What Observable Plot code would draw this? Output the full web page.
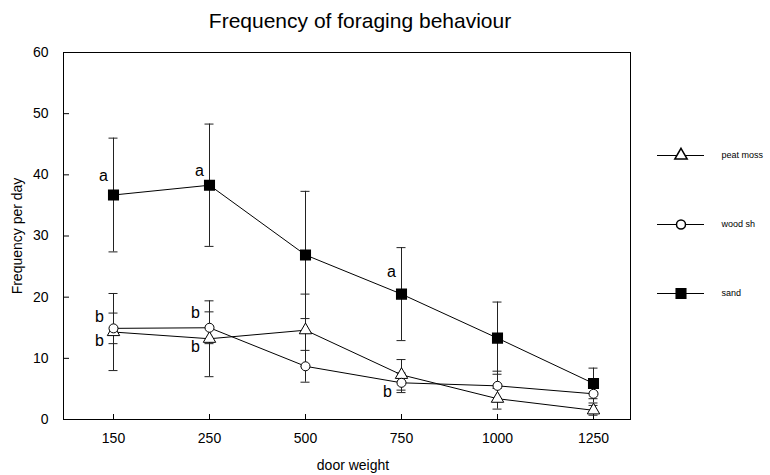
<!DOCTYPE html>
<html>
<head>
<meta charset="utf-8">
<script src="https://cdn.jsdelivr.net/npm/d3@7"></script>
<script src="https://cdn.jsdelivr.net/npm/@observablehq/plot@0.6"></script>
<style>
  html, body { margin: 0; padding: 0; background: #fff; }
  #wrap { position: relative; width: 770px; height: 475px; font-family: "Liberation Sans", Arial, sans-serif; }
  #wrap svg { position: absolute; background: transparent; }
</style>
</head>
<body>
<div id="wrap"></div>
<script>
// ---- data ----
const titleText = "Frequency of foraging behaviour";
const xLabel = "door weight";
const yLabel = "Frequency per day";
const doorWeights = ["150", "250", "500", "750", "1000", "1250"];
const yTicks = [0, 10, 20, 30, 40, 50, 60];
const seriesNames = ["peat moss", "wood sh", "sand"];

const peatMoss    = [14.3, 13.2, 14.6, 7.3, 3.4, 1.5];
const peatMossErr = [6.3, 6.2, 5.9, 2.5, 1.7, 0.8];
const woodSh      = [14.9, 15.0, 8.7, 6.0, 5.5, 4.2];
const woodShErr   = [2.5, 2.6, 2.6, 1.6, 2.4, 1.5];
const sand        = [36.7, 38.3, 26.9, 20.5, 13.3, 5.9];
const sandErr     = [9.3, 10.0, 10.4, 7.6, 5.9, 2.5];

// significance letters (category, value, letter)
const letterX    = ["150", "250", "750", "150", "150", "250", "250", "750"];
const letterY    = [39.9, 40.7, 24.1, 16.7, 12.8, 17.5, 11.8, 4.5];
const letterText = ["a", "a", "a", "b", "b", "b", "b", "b"];

// ---- build tables ----
const seriesValues = [peatMoss, woodSh, sand];
const seriesErrors = [peatMossErr, woodShErr, sandErr];
const rows = [];
seriesNames.forEach((s, i) => doorWeights.forEach((w, j) => rows.push({
  series: s, w, v: seriesValues[i][j],
  lo: seriesValues[i][j] - seriesErrors[i][j],
  hi: seriesValues[i][j] + seriesErrors[i][j]
})));
const letters = letterText.map((t, i) => ({w: letterX[i], v: letterY[i], t}));

const W = 770, H = 475;
const mL = 63, mR = 140, mT = 52, mB = 56;
const plotW = W - mL - mR, plotH = H - mT - mB;
const font = "Liberation Sans, Arial, sans-serif";
const bySeries = s => rows.filter(d => d.series === s);

const chart = Plot.plot({
  width: W, height: H,
  marginLeft: mL, marginRight: mR, marginTop: mT, marginBottom: mB,
  style: {fontFamily: font, fontSize: "14px", color: "black", background: "white"},
  x: {type: "point", domain: doorWeights, padding: 0, insetLeft: 49, insetRight: 36},
  y: {domain: [0, 60]},
  marks: [
    Plot.frame({stroke: "black", strokeWidth: 1}),
    Plot.ruleY(yTicks, {y: d => d, insetRight: plotW - 6, stroke: "black"}),
    Plot.ruleX(doorWeights, {x: d => d, insetTop: plotH - 5, stroke: "black"}),
    Plot.axisY(yTicks, {tickSize: 0, tickPadding: 15, fontSize: 14, label: null}),
    Plot.axisX(doorWeights, {tickSize: 0, tickPadding: 14, fontSize: 14, label: null}),
    Plot.text([titleText], {frameAnchor: "top", dy: -31, dx: 13, fontSize: 21, text: d => d, lineAnchor: "middle"}),
    Plot.text([xLabel], {frameAnchor: "bottom", dy: 46, dx: 6, fontSize: 14, text: d => d, lineAnchor: "middle"}),
    Plot.text([yLabel], {frameAnchor: "left", dx: -46, rotate: -90, fontSize: 14, text: d => d, textAnchor: "middle", lineAnchor: "middle"}),
    // error bars
    Plot.ruleX(rows, {x: "w", y1: "lo", y2: "hi", stroke: "#222", strokeWidth: 1}),
    Plot.ruleY(rows, {x1: "w", x2: "w", y: "hi", insetLeft: -4.5, insetRight: -4.5, stroke: "#222"}),
    Plot.ruleY(rows, {x1: "w", x2: "w", y: "lo", insetLeft: -4.5, insetRight: -4.5, stroke: "#222"}),
    // lines
    Plot.line(rows, {x: "w", y: "v", z: "series", stroke: "black", strokeWidth: 1}),
    // markers
    Plot.dot(bySeries("peat moss"), {x: "w", y: "v", symbol: "triangle", r: 4.6, fill: "white", stroke: "black", strokeWidth: 1}),
    Plot.dot(bySeries("wood sh"), {x: "w", y: "v", symbol: "circle", r: 4.5, fill: "white", stroke: "black", strokeWidth: 1}),
    Plot.dot(bySeries("sand"), {x: "w", y: "v", symbol: "square", r: 5.4, fill: "black", stroke: "black"}),
    // letters
    Plot.text(letters.filter(d => d.t === "a"), {x: "w", y: "v", text: "t", dx: -10, fontSize: 16}),
    Plot.text(letters.filter(d => d.t === "b"), {x: "w", y: "v", text: "t", dx: -14, fontSize: 16})
  ]
});
chart.style.left = "0px";
chart.style.top = "0px";
document.getElementById("wrap").appendChild(chart);

// legend
const legend = Plot.plot({
  width: 130, height: 200,
  marginLeft: 17, marginRight: 66, marginTop: 35, marginBottom: 27,
  style: {fontFamily: font, fontSize: "9px", color: "black", background: "transparent"},
  x: {domain: [0, 1], axis: null},
  y: {type: "point", domain: seriesNames, padding: 0, axis: null},
  marks: [
    Plot.ruleY(seriesNames, {y: d => d, stroke: "black", strokeWidth: 1}),
    Plot.dot(["peat moss"], {y: d => d, frameAnchor: "middle", symbol: "triangle", r: 4.6, fill: "white", stroke: "black"}),
    Plot.dot(["wood sh"], {y: d => d, frameAnchor: "middle", symbol: "circle", r: 4.5, fill: "white", stroke: "black"}),
    Plot.dot(["sand"], {y: d => d, frameAnchor: "middle", symbol: "square", r: 5.4, fill: "black", stroke: "black"}),
    Plot.text(seriesNames, {y: d => d, frameAnchor: "right", dx: 17, textAnchor: "start", text: d => d, fontSize: 9})
  ]
});
legend.style.left = "640px";
legend.style.top = "120px";
document.getElementById("wrap").appendChild(legend);
</script>
</body>
</html>
